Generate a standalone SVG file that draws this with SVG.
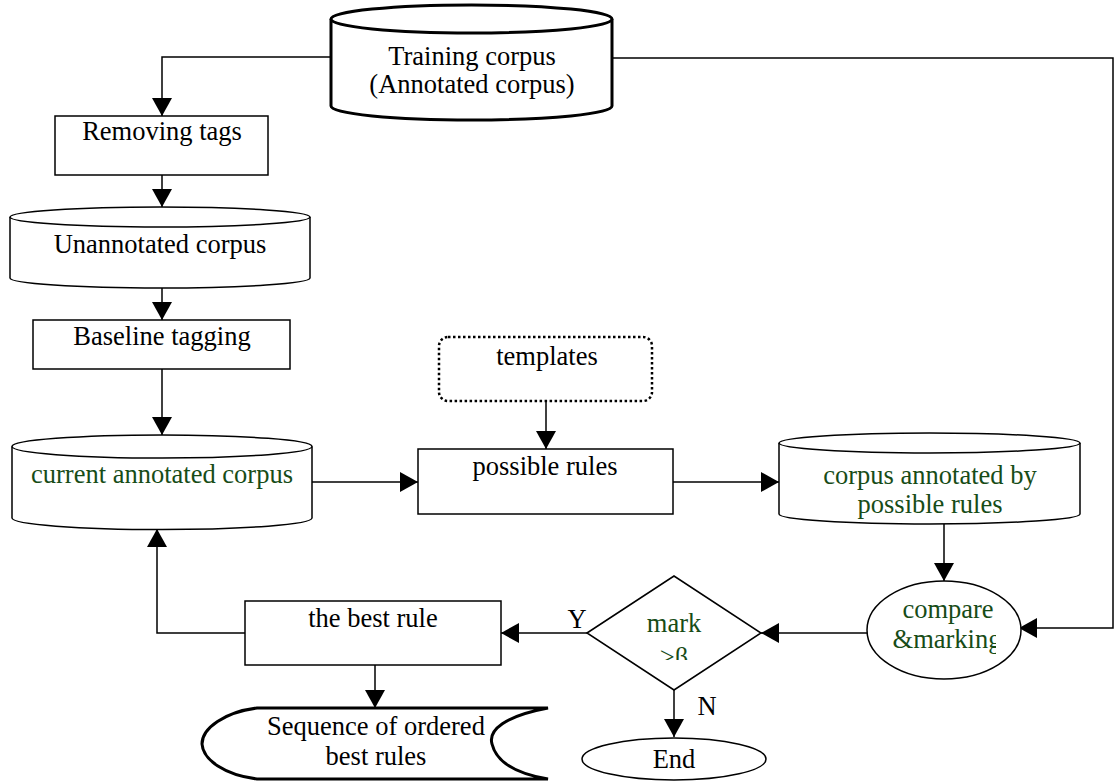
<svg xmlns="http://www.w3.org/2000/svg" width="1115" height="782" viewBox="0 0 1115 782">
<style>
.s{fill:#fff;stroke:#000;stroke-width:1.5}
.thick{fill:#fff;stroke:#000;stroke-width:3}
.t{font-family:"Liberation Serif","Times New Roman",serif;font-size:26.5px;fill:#000;text-anchor:middle}
.g{fill:#174c17}
.c{fill:none;stroke:#000;stroke-width:1.5}
</style>
<defs>
<marker id="ah" markerUnits="userSpaceOnUse" markerWidth="18" markerHeight="20" refX="18" refY="10" orient="auto">
<path d="M0,0 L18,10 L0,20 z" fill="#000"/>
</marker>
<clipPath id="clipCmp"><rect x="860" y="580" width="136" height="100"/></clipPath>
<clipPath id="clipDia"><rect x="600" y="590" width="150" height="70"/></clipPath>
</defs>
<g id="connectors">
<path class="c" d="M331,57 H162 V116" marker-end="url(#ah)"/>
<path class="c" d="M612,58 H1113 V628 H1019" marker-end="url(#ah)"/>
<path class="c" d="M162,175 V207" marker-end="url(#ah)"/>
<path class="c" d="M162,288 V320" marker-end="url(#ah)"/>
<path class="c" d="M162,369 V435" marker-end="url(#ah)"/>
<path class="c" d="M312,482 H418" marker-end="url(#ah)"/>
<path class="c" d="M546,401 V449" marker-end="url(#ah)"/>
<path class="c" d="M673,482 H779" marker-end="url(#ah)"/>
<path class="c" d="M944,524 V581" marker-end="url(#ah)"/>
<path class="c" d="M867,633 H761" marker-end="url(#ah)"/>
<path class="c" d="M587,633 H501" marker-end="url(#ah)"/>
<path class="c" d="M245,633 H157 V529" marker-end="url(#ah)"/>
<path class="c" d="M375,665 V708" marker-end="url(#ah)"/>
<path class="c" d="M674,690 V737" marker-end="url(#ah)"/>
<text class="t" x="577" y="628">Y</text>
<text class="t" x="707" y="715">N</text>
</g>
<g id="training">
<path class="thick" d="M331,19 V106 A140.5,14 0 0 0 612,106 V19"/>
<ellipse class="thick" cx="471.5" cy="19" rx="140.5" ry="14"/>
<text class="t" x="472" y="65">Training corpus</text>
<text class="t" x="472" y="93">(Annotated corpus)</text>
</g>
<g id="removing">
<rect class="s" x="55" y="116" width="213" height="59"/>
<text class="t" x="162" y="140">Removing tags</text>
</g>
<g id="unannotated">
<path class="s" d="M10,217 V278 A150,10 0 0 0 310,278 V217"/>
<ellipse class="s" cx="160" cy="217" rx="150" ry="10"/>
<text class="t" x="160" y="253">Unannotated corpus</text>
</g>
<g id="baseline">
<rect class="s" x="33" y="320" width="257" height="49"/>
<text class="t" x="162" y="345">Baseline tagging</text>
</g>
<g id="current">
<path class="s" d="M12,446.5 V518 A150,11.5 0 0 0 312,518 V446.5"/>
<ellipse class="s" cx="162" cy="446.5" rx="150" ry="11.5"/>
<text class="t g" x="162" y="483">current annotated corpus</text>
</g>
<g id="templates">
<rect x="439" y="337" width="213" height="64" rx="9" fill="#fff" stroke="#000" stroke-width="2.5" stroke-dasharray="2.5 2.5"/>
<text class="t" x="547" y="365">templates</text>
</g>
<g id="possible">
<rect class="s" x="418" y="449" width="255" height="65"/>
<text class="t" x="545" y="475">possible rules</text>
</g>
<g id="annotated">
<path class="s" d="M779,443 V514 A150.5,10 0 0 0 1080,514 V443"/>
<ellipse class="s" cx="929.5" cy="443" rx="150.5" ry="10"/>
<text class="t g" x="930" y="484">corpus annotated by</text>
<text class="t g" x="930" y="513">possible rules</text>
</g>
<g id="compare">
<ellipse class="s" cx="944" cy="630" rx="77" ry="49"/>
<g clip-path="url(#clipCmp)">
<text class="t g" x="948" y="618">compare</text>
<text class="t g" x="947" y="648">&amp;marking</text>
</g>
</g>
<g id="decision">
<polygon class="s" points="587,633 674,576 761,633 674,690"/>
<g clip-path="url(#clipDia)">
<text class="t g" x="674" y="632">mark</text>
<text class="t g" x="674" y="666">&gt;β</text>
</g>
</g>
<g id="bestrule">
<rect class="s" x="245" y="601" width="256" height="64"/>
<text class="t" x="373" y="627">the best rule</text>
</g>
<g id="sequence">
<path class="thick" d="M257,708 H548 C505,716 488,730 492,744 C496,760 512,773 548,779 H257 C225,775 203,760 202,744 C202,728 225,712 257,708 Z"/>
<text class="t" x="376" y="735">Sequence of ordered</text>
<text class="t" x="376" y="765">best rules</text>
</g>
<g id="end">
<ellipse class="s" cx="674" cy="759" rx="92" ry="21"/>
<text class="t" x="674" y="768">End</text>
</g>
</svg>
